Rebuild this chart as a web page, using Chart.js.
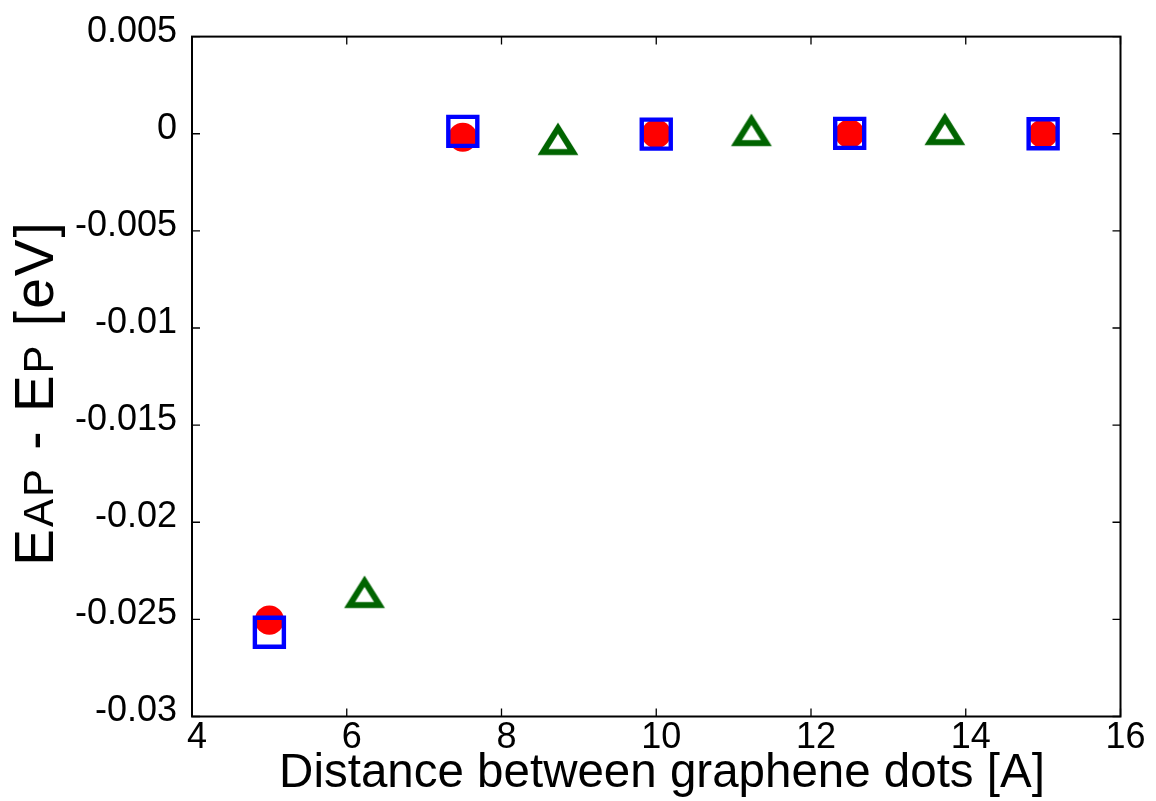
<!DOCTYPE html>
<html>
<head>
<meta charset="utf-8">
<script src="https://cdn.jsdelivr.net/npm/chart.js@4.4.1/dist/chart.umd.min.js"></script>
<style>
    html, body { margin: 0; padding: 0; background: #fff; }
</style>
</head>
<body>
<canvas id="energy-chart" width="1156" height="801"></canvas>
<script>
// values
const circleX = [5, 7.5, 10, 12.5, 15];
const circleY = [-0.02504, -0.00018, 0, 0, 0];
const squareX = [5, 7.5, 10, 12.5, 15];
const squareY = [-0.02566, 0.00012, -0.00002, 0.00002, 0];
const triangleX = [6.23, 8.73, 11.23, 13.73];
const triangleY = [-0.02358, -0.00026, 0.0002, 0.00025];

const xTicks = [4, 6, 8, 10, 12, 14, 16];
const xTickLabels = ['4', '6', '8', '10', '12', '14', '16'];
const yTicks = [0.005, 0, -0.005, -0.01, -0.015, -0.02, -0.025, -0.03];
const yTickLabels = ['0.005', '0', '-0.005', '-0.01', '-0.015', '-0.02', '-0.025', '-0.03'];

const xTitle = 'Distance between graphene dots [A]';
// [text, big?] - E big, the AP / P parts smaller
const yTitleParts = [['E', true], ['AP', false], [' - E', true], ['P', false], [' [eV]', true]];

const FONT = "'Liberation Sans', Arial, Helvetica, sans-serif";

const toPoints = (xs, ys) => xs.map((x, i) => ({ x: x, y: ys[i] }));

// open triangle marker, centred on its bounding box like matplotlib
function makeTriangle() {
    const c = document.createElement('canvas');
    c.width = 48;
    c.height = 40;
    const g = c.getContext('2d');
    const y0 = 9.3;
    g.beginPath();
    g.moveTo(24, y0);
    g.lineTo(24 + 15, y0 + 24);
    g.lineTo(24 - 15, y0 + 24);
    g.closePath();
    g.lineWidth = 6;
    g.lineJoin = 'miter';
    g.strokeStyle = '#006400';
    g.stroke();
    return c;
}

const frameAndTicks = {
    id: 'frameAndTicks',
    afterDatasetsDraw(chart) {
        const { ctx, chartArea: a, scales: { x, y } } = chart;
        const len = 8;
        ctx.save();
        ctx.strokeStyle = '#000';
        ctx.lineWidth = 1.3;
        ctx.beginPath();
        xTicks.forEach(v => {
            const px = x.getPixelForValue(v);
            ctx.moveTo(px, a.bottom); ctx.lineTo(px, a.bottom - len);
            ctx.moveTo(px, a.top); ctx.lineTo(px, a.top + len);
        });
        yTicks.forEach(v => {
            const py = y.getPixelForValue(v);
            ctx.moveTo(a.left, py); ctx.lineTo(a.left + len, py);
            ctx.moveTo(a.right, py); ctx.lineTo(a.right - len, py);
        });
        ctx.stroke();
        ctx.lineWidth = 2;
        ctx.strokeRect(a.left, a.top, a.right - a.left, a.bottom - a.top);
        ctx.restore();
    },
    afterDraw(chart) {
        const { ctx } = chart;
        ctx.save();
        ctx.fillStyle = '#000';
        ctx.textBaseline = 'alphabetic';

        // x title
        ctx.font = '47.5px ' + FONT;
        ctx.textAlign = 'center';
        ctx.fillText(xTitle, 662, 787);

        // y title, mixed sizes on one baseline
        ctx.textAlign = 'left';
        ctx.letterSpacing = '2px';
        const fontFor = big => (big ? '55px ' : '42px ') + FONT;
        let total = 0;
        yTitleParts.forEach(([t, big]) => {
            ctx.font = fontFor(big);
            total += ctx.measureText(t).width;
        });
        ctx.translate(53, 393);
        ctx.rotate(-Math.PI / 2);
        let pos = -total / 2;
        yTitleParts.forEach(([t, big]) => {
            ctx.font = fontFor(big);
            ctx.fillText(t, pos, 0);
            pos += ctx.measureText(t).width;
        });
        ctx.restore();
    }
};

const ctx = document.getElementById('energy-chart').getContext('2d');

new Chart(ctx, {
    type: 'scatter',
    data: {
        datasets: [{
            label: 'circles',
            data: toPoints(circleX, circleY),
            pointStyle: 'circle',
            pointRadius: 14.6,
            backgroundColor: '#ff0000',
            borderColor: '#ff0000',
            borderWidth: 0,
            order: 2
        }, {
            label: 'squares',
            data: toPoints(squareX, squareY),
            pointStyle: 'rect',
            pointRadius: 20.5,
            backgroundColor: 'rgba(0,0,0,0)',
            borderColor: '#0000ff',
            borderWidth: 4.4,
            order: 1
        }, {
            label: 'triangles',
            data: toPoints(triangleX, triangleY),
            pointStyle: makeTriangle(),
            pointRadius: 20,
            order: 3
        }]
    },
    options: {
        responsive: false,
        animation: false,
        events: [],
        layout: {
            autoPadding: false,
            padding: { left: 0, top: 32.5, right: 35.5, bottom: 0 }
        },
        plugins: {
            legend: { display: false },
            tooltip: { enabled: false }
        },
        scales: {
            x: {
                type: 'linear',
                min: 4,
                max: 16,
                afterBuildTicks: s => { s.ticks = xTicks.map(v => ({ value: v })); },
                afterFit: s => { s.height = 801 - 716.5; },
                grid: { display: false, drawTicks: false },
                border: { display: false },
                ticks: {
                    color: '#000',
                    padding: 0,
                    labelOffset: 5,
                    font: { family: FONT, size: 36 },
                    callback: (v) => xTickLabels[xTicks.indexOf(v)]
                }
            },
            y: {
                type: 'linear',
                min: -0.03,
                max: 0.005,
                afterBuildTicks: s => { s.ticks = yTicks.map(v => ({ value: v })); },
                afterFit: s => { s.width = 192; },
                grid: { display: false, drawTicks: false },
                border: { display: false },
                ticks: {
                    color: '#000',
                    padding: 15,
                    labelOffset: -5,
                    font: { family: FONT, size: 36 },
                    callback: (v) => yTickLabels[yTicks.indexOf(v)]
                }
            }
        }
    },
    plugins: [frameAndTicks]
});
</script>
</body>
</html>
